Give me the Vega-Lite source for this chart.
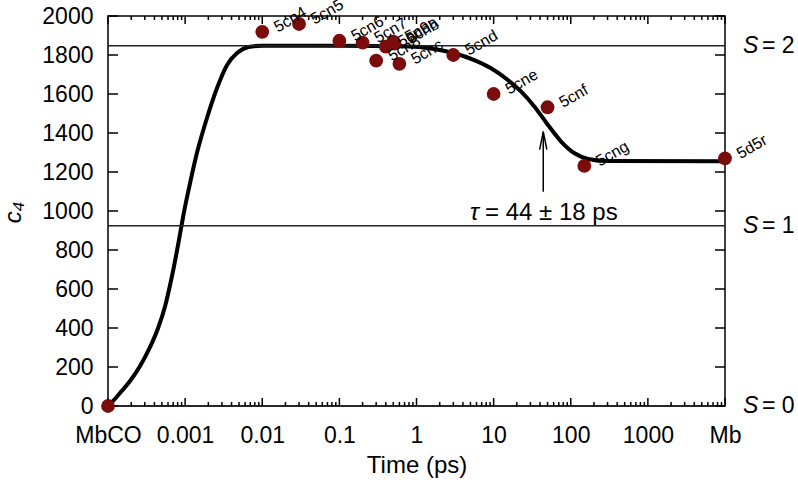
{
  "$schema": "https://vega.github.io/schema/vega-lite/v6.json",
  "width": 617,
  "height": 390,
  "autosize": "none",
  "padding": {"left": 108, "top": 16, "right": 73, "bottom": 77},
  "config": {
    "view": {"stroke": "black", "strokeWidth": 1.5},
    "font": "Liberation Sans",
    "axis": {
      "grid": false,
      "domain": false,
      "ticks": false,
      "tickSize": 0,
      "labelOverlap": false,
      "labelFlush": false,
      "labelFont": "Liberation Sans",
      "labelFontSize": 23,
      "labelColor": "black",
      "titleFont": "Liberation Sans",
      "titleFontSize": 24,
      "titleColor": "black",
      "titleFontWeight": "normal"
    }
  },
  "datasets": {
    "curve": [
      {"t": 0.0001, "c4": 0},
      {"t": 0.0001127, "c4": 20},
      {"t": 0.0001432, "c4": 67},
      {"t": 0.0001932, "c4": 128},
      {"t": 0.0002606, "c4": 205},
      {"t": 0.0003516, "c4": 303},
      {"t": 0.0004467, "c4": 400},
      {"t": 0.0005508, "c4": 513},
      {"t": 0.000659, "c4": 646},
      {"t": 0.0007655, "c4": 774},
      {"t": 0.000863, "c4": 887},
      {"t": 0.000973, "c4": 1000},
      {"t": 0.00113, "c4": 1123},
      {"t": 0.001422, "c4": 1297},
      {"t": 0.001919, "c4": 1477},
      {"t": 0.002594, "c4": 1631},
      {"t": 0.0035, "c4": 1749},
      {"t": 0.00472, "c4": 1810},
      {"t": 0.00662, "c4": 1841},
      {"t": 0.01, "c4": 1848},
      {"t": 0.1, "c4": 1848},
      {"t": 0.63, "c4": 1845},
      {"t": 1.7, "c4": 1831},
      {"t": 3.09, "c4": 1809},
      {"t": 5.62, "c4": 1774},
      {"t": 9.27, "c4": 1732},
      {"t": 15.3, "c4": 1672},
      {"t": 22.8, "c4": 1612},
      {"t": 33.9, "c4": 1535},
      {"t": 50.7, "c4": 1441},
      {"t": 75.5, "c4": 1355},
      {"t": 112, "c4": 1296},
      {"t": 168, "c4": 1267},
      {"t": 305, "c4": 1256},
      {"t": 10000, "c4": 1255}
    ],
    "points": [
      {"t": 0.0001, "c4": 0, "label": ""},
      {"t": 0.01, "c4": 1919, "label": "5cn4"},
      {"t": 0.03, "c4": 1959, "label": "5cn5"},
      {"t": 0.1, "c4": 1873, "label": "5cn6"},
      {"t": 0.2, "c4": 1863, "label": "5cn7"},
      {"t": 0.3, "c4": 1771, "label": "5cn8"},
      {"t": 0.4, "c4": 1843, "label": "5cn9"},
      {"t": 0.5, "c4": 1868, "label": "5cna"},
      {"t": 0.52, "c4": 1858, "label": "5cnb"},
      {"t": 0.6, "c4": 1755, "label": "5cnc"},
      {"t": 3, "c4": 1800, "label": "5cnd"},
      {"t": 10, "c4": 1600, "label": "5cne"},
      {"t": 50, "c4": 1532, "label": "5cnf"},
      {"t": 150, "c4": 1231, "label": "5cng"},
      {"t": 10000, "c4": 1270, "label": "5d5r"}
    ],
    "levels": [
      {"c4": 1848, "S": "S", "eq": "= 2"},
      {"c4": 924, "S": "S", "eq": "= 1"},
      {"c4": 0, "S": "S", "eq": "= 0"}
    ],
    "arrow": [
      {"t": 44, "c4": 1099, "tip": 1407}
    ],
    "note": [
      {"t": 6.87, "c4": 954, "sym": "τ", "rest": "= 44 ± 18 ps"}
    ],
    "xmajor": [
      {"t": 0.0001}, {"t": 0.001}, {"t": 0.01}, {"t": 0.1}, {"t": 1},
      {"t": 10}, {"t": 100}, {"t": 1000}, {"t": 10000}
    ],
    "xminor": [
      {"t": 0.0002}, {"t": 0.0003}, {"t": 0.0004}, {"t": 0.0005}, {"t": 0.0006}, {"t": 0.0007}, {"t": 0.0008}, {"t": 0.0009},
      {"t": 0.002}, {"t": 0.003}, {"t": 0.004}, {"t": 0.005}, {"t": 0.006}, {"t": 0.007}, {"t": 0.008}, {"t": 0.009},
      {"t": 0.02}, {"t": 0.03}, {"t": 0.04}, {"t": 0.05}, {"t": 0.06}, {"t": 0.07}, {"t": 0.08}, {"t": 0.09},
      {"t": 0.2}, {"t": 0.3}, {"t": 0.4}, {"t": 0.5}, {"t": 0.6}, {"t": 0.7}, {"t": 0.8}, {"t": 0.9},
      {"t": 2}, {"t": 3}, {"t": 4}, {"t": 5}, {"t": 6}, {"t": 7}, {"t": 8}, {"t": 9},
      {"t": 20}, {"t": 30}, {"t": 40}, {"t": 50}, {"t": 60}, {"t": 70}, {"t": 80}, {"t": 90},
      {"t": 200}, {"t": 300}, {"t": 400}, {"t": 500}, {"t": 600}, {"t": 700}, {"t": 800}, {"t": 900},
      {"t": 2000}, {"t": 3000}, {"t": 4000}, {"t": 5000}, {"t": 6000}, {"t": 7000}, {"t": 8000}, {"t": 9000}
    ],
    "yticks": [
      {"c4": 0}, {"c4": 200}, {"c4": 400}, {"c4": 600}, {"c4": 800}, {"c4": 1000},
      {"c4": 1200}, {"c4": 1400}, {"c4": 1600}, {"c4": 1800}, {"c4": 2000}
    ]
  },
  "resolve": {"axis": {"x": "independent", "y": "independent"}},
  "layer": [
    {
      "data": {"name": "curve"},
      "mark": {"type": "line", "color": "black", "strokeWidth": 4, "interpolate": "monotone"},
      "encoding": {
        "x": {
          "field": "t", "type": "quantitative",
          "scale": {"type": "log", "domain": [0.0001, 10000], "nice": false},
          "axis": {
            "orient": "bottom",
            "values": [0.0001, 0.001, 0.01, 0.1, 1, 10, 100, 1000, 10000],
            "labelPadding": 18,
            "labelExpr": "datum.value < 0.0002 ? 'MbCO' : datum.value > 5000 ? 'Mb' : format(datum.value, '~g')",
            "title": "Time (ps)",
            "titleY": 66,
            "titleBaseline": "alphabetic"
          }
        },
        "y": {
          "field": "c4", "type": "quantitative",
          "scale": {"domain": [0, 2000], "nice": false},
          "axis": {
            "orient": "left",
            "values": [0, 200, 400, 600, 800, 1000, 1200, 1400, 1600, 1800, 2000],
            "format": "d",
            "labelPadding": 15,
            "title": "c₄",
            "titleFontStyle": "italic",
            "titleX": -95,
            "titleY": 196,
            "titleBaseline": "middle"
          }
        }
      }
    },
    {
      "data": {"name": "levels"},
      "mark": {"type": "rule", "color": "#222", "strokeWidth": 1.5},
      "encoding": {
        "y": {"field": "c4", "type": "quantitative", "axis": null}
      }
    },
    {
      "data": {"name": "xmajor"},
      "layer": [
        {"mark": {"type": "tick", "orient": "vertical", "size": 8, "thickness": 1.5, "color": "black", "opacity": 1, "yOffset": -4},
         "encoding": {"y": {"datum": 0, "type": "quantitative", "axis": null}}},
        {"mark": {"type": "tick", "orient": "vertical", "size": 8, "thickness": 1.5, "color": "black", "opacity": 1, "yOffset": 4},
         "encoding": {"y": {"datum": 2000, "type": "quantitative", "axis": null}}}
      ],
      "encoding": {
        "x": {"field": "t", "type": "quantitative", "axis": null}
      }
    },
    {
      "data": {"name": "xminor"},
      "layer": [
        {"mark": {"type": "tick", "orient": "vertical", "size": 4, "thickness": 1.5, "color": "black", "opacity": 1, "yOffset": -2},
         "encoding": {"y": {"datum": 0, "type": "quantitative", "axis": null}}},
        {"mark": {"type": "tick", "orient": "vertical", "size": 4, "thickness": 1.5, "color": "black", "opacity": 1, "yOffset": 2},
         "encoding": {"y": {"datum": 2000, "type": "quantitative", "axis": null}}}
      ],
      "encoding": {
        "x": {"field": "t", "type": "quantitative", "axis": null}
      }
    },
    {
      "data": {"name": "yticks"},
      "layer": [
        {"mark": {"type": "tick", "orient": "horizontal", "size": 10, "thickness": 1.5, "color": "black", "opacity": 1, "xOffset": 5},
         "encoding": {"x": {"datum": 0.0001, "type": "quantitative", "axis": null}}},
        {"mark": {"type": "tick", "orient": "horizontal", "size": 10, "thickness": 1.5, "color": "black", "opacity": 1, "xOffset": -5},
         "encoding": {"x": {"datum": 10000, "type": "quantitative", "axis": null}}}
      ],
      "encoding": {
        "y": {"field": "c4", "type": "quantitative", "axis": null}
      }
    },
    {
      "data": {"name": "arrow"},
      "mark": {"type": "rule", "color": "black", "strokeWidth": 1.5},
      "encoding": {
        "x": {"field": "t", "type": "quantitative", "axis": null},
        "y": {"field": "c4", "type": "quantitative", "axis": null},
        "y2": {"field": "tip"}
      }
    },
    {
      "data": {"name": "arrow"},
      "mark": {"type": "point", "shape": "M-0.4,2L0,0L0.4,2", "size": 324, "filled": false, "stroke": "black", "strokeWidth": 1.5, "opacity": 1},
      "encoding": {
        "x": {"field": "t", "type": "quantitative", "axis": null},
        "y": {"field": "tip", "type": "quantitative", "axis": null}
      }
    },
    {
      "data": {"name": "points"},
      "mark": {"type": "circle", "size": 190, "color": "#7b0c0c", "opacity": 1},
      "encoding": {
        "x": {"field": "t", "type": "quantitative", "axis": null},
        "y": {"field": "c4", "type": "quantitative", "axis": null}
      }
    },
    {
      "data": {"name": "points"},
      "mark": {"type": "text", "angle": -30, "align": "left", "baseline": "alphabetic", "dx": 13, "dy": 8.5, "fontSize": 16, "color": "black", "font": "Liberation Sans"},
      "encoding": {
        "x": {"field": "t", "type": "quantitative", "axis": null},
        "y": {"field": "c4", "type": "quantitative", "axis": null},
        "text": {"field": "label"}
      }
    },
    {
      "data": {"name": "note"},
      "mark": {"type": "text", "align": "right", "baseline": "alphabetic", "dx": -2, "fontSize": 24, "fontStyle": "italic", "color": "black", "font": "Liberation Sans"},
      "encoding": {
        "x": {"field": "t", "type": "quantitative", "axis": null},
        "y": {"field": "c4", "type": "quantitative", "axis": null},
        "text": {"field": "sym"}
      }
    },
    {
      "data": {"name": "note"},
      "mark": {"type": "text", "align": "left", "baseline": "alphabetic", "dx": 4, "fontSize": 24, "color": "black", "font": "Liberation Sans"},
      "encoding": {
        "x": {"field": "t", "type": "quantitative", "axis": null},
        "y": {"field": "c4", "type": "quantitative", "axis": null},
        "text": {"field": "rest"}
      }
    },
    {
      "data": {"name": "levels"},
      "mark": {"type": "text", "align": "left", "baseline": "middle", "dx": 18, "fontSize": 23, "fontStyle": "italic", "color": "black", "font": "Liberation Sans"},
      "encoding": {
        "x": {"datum": 10000, "type": "quantitative", "axis": null},
        "y": {"field": "c4", "type": "quantitative", "axis": null},
        "text": {"field": "S"}
      }
    },
    {
      "data": {"name": "levels"},
      "mark": {"type": "text", "align": "left", "baseline": "middle", "dx": 37, "fontSize": 23, "color": "black", "font": "Liberation Sans"},
      "encoding": {
        "x": {"datum": 10000, "type": "quantitative", "axis": null},
        "y": {"field": "c4", "type": "quantitative", "axis": null},
        "text": {"field": "eq"}
      }
    }
  ]
}
